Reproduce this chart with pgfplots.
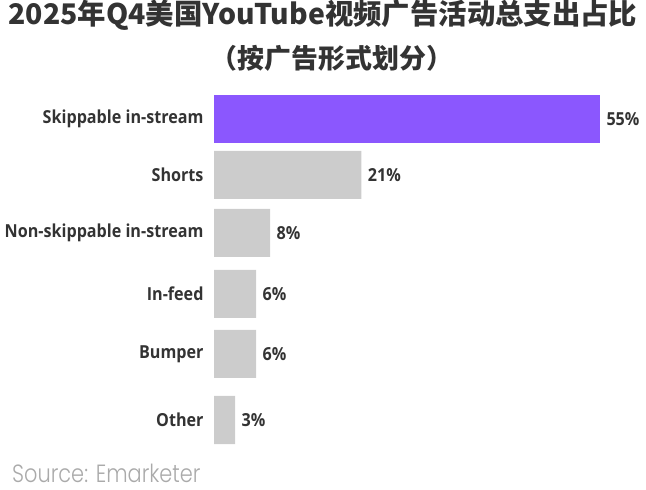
\documentclass[border=0pt]{standalone}
\usepackage{fontspec}
\usepackage{pgfplots}
\pgfplotsset{compat=1.18}
\setmainfont{Open Sans}[FakeStretch=0.9]
\newfontfamily\cjk{Noto Sans CJK SC}
\newfontfamily\srcfont{Poppins Light}[FakeStretch=0.84]
\definecolor{purp}{HTML}{8B57FE}
\definecolor{barg}{HTML}{CCCCCC}
\definecolor{txt}{HTML}{333333}
\definecolor{srcc}{HTML}{AAAAAA}
\begin{document}
\begin{tikzpicture}[x=1bp,y=1bp]
\useasboundingbox (0,0) rectangle (646,490);
\node[font=\cjk\bfseries\fontsize{28.5}{30}\selectfont, text=txt] at (323,475) {2025年Q4美国YouTube视频广告活动总支出占比};
\node[font=\cjk\bfseries\fontsize{27}{30}\selectfont, text=txt] at (332,431.5) {（按广告形式划分）};
\node[font=\srcfont\fontsize{25}{27}\selectfont, text=srcc, anchor=base west, inner sep=0pt] at (12,7.5) {Source: Emarketer};
\begin{axis}[
  at={(214bp,40bp)}, anchor=south west,
  scale only axis, width=386bp, height=360bp,
  xbar, bar width=48bp, bar shift=0pt,
  xmin=0, xmax=55,
  ymin=90, ymax=450, y dir=reverse,
  ytick={119,175,233,294,354,420},
  yticklabels={Skippable in-stream,Shorts,Non-skippable in-stream,In-feed,Bumper,Other},
  yticklabel style={font=\bfseries\fontsize{18}{20}\selectfont, text=txt, xshift=-7bp},
  major tick length=0pt, axis line style={draw=none}, xtick=\empty,
  clip=false,
  point meta=explicit symbolic,
  nodes near coords={\pgfplotspointmeta\%},
  nodes near coords style={font=\bfseries\fontsize{18}{20}\selectfont, text=txt, anchor=west, xshift=3bp},
]
\addplot[fill=purp, draw=none] coordinates {(55,119) [55]};
\addplot[fill=barg, draw=none] coordinates {(21,175) [21] (8,233) [8] (6,294) [6] (6,354) [6] (3,420) [3]};
\end{axis}
\end{tikzpicture}
\end{document}
